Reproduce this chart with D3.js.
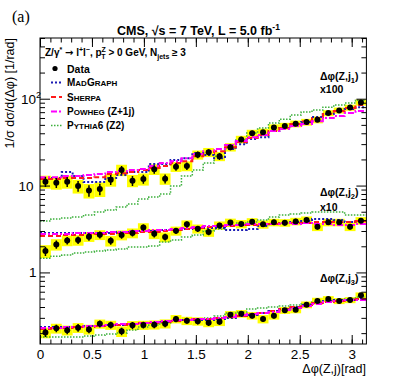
<!DOCTYPE html>
<html>
<head>
<meta charset="utf-8">
<script src="https://cdn.jsdelivr.net/npm/d3@7"></script>
<style>
  body { margin: 0; background: #fff; }
  svg { display: block; }
  text { font-family: "Liberation Sans", Arial, sans-serif; fill: #000; }
</style>
</head>
<body>
<svg id="chart" width="407" height="383"></svg>
<script>
// Binning: 30 bins in delta phi from 0 to pi
var binCount = 30;
var xTicks = [0, 0.5, 1, 1.5, 2, 2.5, 3];
var xTickLabels = ["0", "0.5", "1", "1.5", "2", "2.5", "3"];
var yTicks = [1, 10, 100];

// Scale factors used for display (j1 x100, j2 x10, j3 x1)
var factors = [100, 10, 1];

// Measured data, normalised (unscaled)
var dataJ1 = [0.111, 0.108, 0.111, 0.0987, 0.0876, 0.0912, 0.117, 0.151, 0.114, 0.119, 0.154, 0.120, 0.165, 0.168, 0.226,
              0.242, 0.217, 0.277, 0.340, 0.399, 0.411, 0.465, 0.484, 0.514, 0.538, 0.572, 0.683, 0.733, 0.790, 0.907];
var dataJ2 = [0.176, 0.210, 0.233, 0.236, 0.258, 0.271, 0.231, 0.269, 0.284, 0.329, 0.278, 0.256, 0.301, 0.358, 0.318,
              0.292, 0.348, 0.375, 0.361, 0.383, 0.358, 0.377, 0.373, 0.387, 0.401, 0.336, 0.377, 0.377, 0.336, 0.394];
var dataJ3 = [0.203, 0.227, 0.216, 0.231, 0.221, 0.256, 0.248, 0.210, 0.246, 0.248, 0.250, 0.257, 0.291, 0.278, 0.274,
              0.263, 0.271, 0.326, 0.335, 0.318, 0.291, 0.318, 0.366, 0.372, 0.425, 0.469, 0.494, 0.469, 0.481, 0.545];

// Relative statistical errors
var statJ1 = [0.13, 0.13, 0.13, 0.14, 0.15, 0.15, 0.13, 0.11, 0.13, 0.12, 0.11, 0.12, 0.10, 0.10, 0.09,
              0.08, 0.09, 0.08, 0.07, 0.07, 0.06, 0.06, 0.06, 0.06, 0.06, 0.05, 0.05, 0.05, 0.05, 0.045];
var statJ2 = [0.12, 0.11, 0.10, 0.10, 0.10, 0.09, 0.10, 0.09, 0.09, 0.08, 0.09, 0.09, 0.08, 0.08, 0.08,
              0.08, 0.07, 0.07, 0.07, 0.07, 0.07, 0.07, 0.07, 0.07, 0.06, 0.07, 0.07, 0.07, 0.07, 0.06];
var statJ3 = [0.11, 0.10, 0.10, 0.10, 0.10, 0.09, 0.09, 0.10, 0.09, 0.09, 0.09, 0.09, 0.08, 0.08, 0.08,
              0.08, 0.08, 0.07, 0.07, 0.07, 0.07, 0.07, 0.06, 0.06, 0.06, 0.05, 0.05, 0.05, 0.05, 0.05];

// Relative systematic errors (yellow boxes)
var sysJ1 = [0.17, 0.17, 0.17, 0.18, 0.19, 0.19, 0.17, 0.15, 0.16, 0.16, 0.14, 0.15, 0.13, 0.13, 0.12,
             0.12, 0.12, 0.11, 0.10, 0.10, 0.10, 0.09, 0.09, 0.09, 0.09, 0.09, 0.08, 0.08, 0.08, 0.08];
var sysJ2 = [0.17, 0.15, 0.14, 0.14, 0.13, 0.13, 0.14, 0.13, 0.13, 0.12, 0.13, 0.13, 0.12, 0.11, 0.12,
             0.12, 0.11, 0.11, 0.11, 0.10, 0.11, 0.10, 0.10, 0.10, 0.10, 0.11, 0.10, 0.10, 0.11, 0.10];
var sysJ3 = [0.14, 0.13, 0.13, 0.13, 0.13, 0.12, 0.12, 0.14, 0.12, 0.12, 0.12, 0.12, 0.11, 0.11, 0.11,
             0.11, 0.11, 0.10, 0.10, 0.10, 0.11, 0.10, 0.09, 0.09, 0.09, 0.09, 0.08, 0.08, 0.08, 0.08];

// Predictions
var madgraphJ1 = [0.119, 0.122, 0.143, 0.129, 0.110, 0.110, 0.122, 0.132, 0.143, 0.143, 0.177, 0.177, 0.197, 0.207, 0.237,
                  0.225, 0.207, 0.263, 0.300, 0.343, 0.361, 0.424, 0.459, 0.497, 0.538, 0.614, 0.665, 0.720, 0.760, 0.800];
var sherpaJ1 = [0.119, 0.119, 0.122, 0.122, 0.122, 0.125, 0.136, 0.139, 0.143, 0.151, 0.159, 0.168, 0.182, 0.191, 0.218,
                0.237, 0.249, 0.277, 0.317, 0.352, 0.381, 0.424, 0.459, 0.511, 0.552, 0.598, 0.665, 0.720, 0.780, 0.844];
var powhegJ1 = [0.125, 0.125, 0.129, 0.129, 0.132, 0.136, 0.143, 0.147, 0.151, 0.155, 0.168, 0.182, 0.191, 0.207, 0.231,
                0.249, 0.263, 0.293, 0.325, 0.361, 0.381, 0.424, 0.447, 0.484, 0.511, 0.552, 0.598, 0.631, 0.683, 0.720];
var pythiaJ1 = [0.0390, 0.0412, 0.0423, 0.0434, 0.0458, 0.0496, 0.0523, 0.0566, 0.0612, 0.0699, 0.0737, 0.0798, 0.0987, 0.129, 0.151,
                0.182, 0.218, 0.270, 0.334, 0.402, 0.459, 0.524, 0.582, 0.648, 0.701, 0.739, 0.800, 0.844, 0.890, 0.963];

var madgraphJ2 = [0.284, 0.284, 0.284, 0.284, 0.284, 0.284, 0.284, 0.292, 0.292, 0.300, 0.300, 0.308, 0.308, 0.316, 0.324,
                  0.324, 0.324, 0.308, 0.308, 0.316, 0.342, 0.360, 0.370, 0.380, 0.390, 0.412, 0.412, 0.401, 0.380, 0.390];
var sherpaJ2 = [0.262, 0.262, 0.269, 0.269, 0.269, 0.277, 0.277, 0.284, 0.284, 0.292, 0.292, 0.300, 0.308, 0.316, 0.324,
                0.333, 0.342, 0.342, 0.351, 0.351, 0.360, 0.360, 0.370, 0.370, 0.370, 0.380, 0.380, 0.380, 0.380, 0.390];
var powhegJ2 = [0.277, 0.277, 0.277, 0.284, 0.284, 0.284, 0.292, 0.292, 0.300, 0.300, 0.308, 0.308, 0.316, 0.324, 0.333,
                0.342, 0.342, 0.351, 0.351, 0.360, 0.360, 0.360, 0.370, 0.360, 0.370, 0.360, 0.360, 0.351, 0.351, 0.360];
var pythiaJ2 = [0.146, 0.154, 0.159, 0.167, 0.172, 0.176, 0.181, 0.186, 0.196, 0.196, 0.201, 0.224, 0.236, 0.255, 0.269,
                0.300, 0.316, 0.351, 0.370, 0.380, 0.401, 0.434, 0.458, 0.470, 0.483, 0.496, 0.496, 0.496, 0.458, 0.458];

var madgraphJ3 = [0.235, 0.235, 0.235, 0.235, 0.242, 0.242, 0.248, 0.248, 0.255, 0.262, 0.262, 0.269, 0.276, 0.283, 0.283,
                  0.283, 0.291, 0.299, 0.315, 0.323, 0.341, 0.359, 0.379, 0.400, 0.422, 0.444, 0.469, 0.481, 0.481, 0.494];
var sherpaJ3 = [0.223, 0.229, 0.229, 0.235, 0.235, 0.242, 0.242, 0.248, 0.255, 0.262, 0.262, 0.269, 0.276, 0.283, 0.291,
                0.291, 0.299, 0.307, 0.315, 0.332, 0.341, 0.359, 0.379, 0.400, 0.422, 0.444, 0.456, 0.469, 0.481, 0.494];
var powhegJ3 = [0.229, 0.229, 0.235, 0.235, 0.242, 0.242, 0.248, 0.255, 0.255, 0.262, 0.269, 0.276, 0.283, 0.283, 0.291,
                0.291, 0.299, 0.307, 0.323, 0.332, 0.341, 0.350, 0.369, 0.389, 0.411, 0.433, 0.456, 0.469, 0.481, 0.481];
var pythiaJ3 = [0.180, 0.180, 0.180, 0.180, 0.185, 0.190, 0.195, 0.201, 0.217, 0.235, 0.248, 0.262, 0.276, 0.283, 0.291,
                0.299, 0.315, 0.341, 0.350, 0.379, 0.389, 0.400, 0.411, 0.422, 0.433, 0.456, 0.469, 0.481, 0.494, 0.521];

// Model styles
var models = [
  {name: "madgraph", color: "#1c1cb4", dash: "2,2", width: 2},
  {name: "sherpa", color: "#ff1a1a", dash: "5,3", width: 2},
  {name: "powheg", color: "#ff00ff", dash: "6,2,2,2", width: 2},
  {name: "pythia", color: "#3cb03c", dash: "1.5,1.5", width: 1.5}
];

var series = [
  {data: dataJ1, stat: statJ1, sys: sysJ1, factor: factors[0], mc: [madgraphJ1, sherpaJ1, powhegJ1, pythiaJ1]},
  {data: dataJ2, stat: statJ2, sys: sysJ2, factor: factors[1], mc: [madgraphJ2, sherpaJ2, powhegJ2, pythiaJ2]},
  {data: dataJ3, stat: statJ3, sys: sysJ3, factor: factors[2], mc: [madgraphJ3, sherpaJ3, powhegJ3, pythiaJ3]}
];

var edges = d3.range(binCount + 1).map(function(i){ return i * Math.PI / binCount; });

var frame = {left: 40, right: 366.4, top: 38, bottom: 344};
var x = d3.scaleLinear().domain([0, Math.PI]).range([frame.left, frame.right]);
var y = d3.scaleLog().domain([0.15, 500]).range([frame.bottom, frame.top]);

var svg = d3.select("#chart");

svg.append("clipPath").attr("id", "plotClip")
  .append("rect")
  .attr("x", frame.left).attr("y", frame.top)
  .attr("width", frame.right - frame.left).attr("height", frame.bottom - frame.top);

var plot = svg.append("g").attr("clip-path", "url(#plotClip)");

// Yellow systematic boxes
series.forEach(function(s){
  plot.append("g").selectAll("rect")
    .data(s.data)
    .enter()
    .append("rect")
    .attr("x", function(d, i){ return x(edges[i]); })
    .attr("width", function(d, i){ return x(edges[i + 1]) - x(edges[i]); })
    .attr("y", function(d, i){ return y(d * s.factor * (1 + s.sys[i])); })
    .attr("height", function(d, i){ return y(d * s.factor * (1 - s.sys[i])) - y(d * s.factor * (1 + s.sys[i])); })
    .attr("fill", "#ffff00");
});

// Step histograms for the predictions
var stepLine = d3.line()
  .x(function(d){ return x(d.x); })
  .y(function(d){ return y(d.v); })
  .curve(d3.curveStepAfter);

var stepPoints = function(values, factor){
  var pts = values.map(function(v, i){ return {x: edges[i], v: v * factor}; });
  pts.push({x: edges[binCount], v: values[binCount - 1] * factor});
  return pts;
};

// pythia first so the others sit on top
[3, 0, 1, 2].forEach(function(m){
  series.forEach(function(s){
    plot.append("path")
      .attr("d", stepLine(stepPoints(s.mc[m], s.factor)))
      .attr("fill", "none")
      .attr("stroke", models[m].color)
      .attr("stroke-width", models[m].width)
      .attr("stroke-dasharray", models[m].dash);
  });
});

// Data points with stat error bars
series.forEach(function(s){
  var g = plot.append("g");
  g.selectAll("line")
    .data(s.data)
    .enter()
    .append("line")
    .attr("x1", function(d, i){ return x((edges[i] + edges[i + 1]) / 2); })
    .attr("x2", function(d, i){ return x((edges[i] + edges[i + 1]) / 2); })
    .attr("y1", function(d, i){ return y(d * s.factor * (1 - s.stat[i])); })
    .attr("y2", function(d, i){ return y(d * s.factor * (1 + s.stat[i])); })
    .attr("stroke", "#000")
    .attr("stroke-width", 1.5);
  g.selectAll("circle")
    .data(s.data)
    .enter()
    .append("circle")
    .attr("cx", function(d, i){ return x((edges[i] + edges[i + 1]) / 2); })
    .attr("cy", function(d){ return y(d * s.factor); })
    .attr("r", 3)
    .attr("fill", "#000");
});

// Axes, ROOT style: ticks inside the frame on all four sides
var xMinor = d3.range(0, 32).map(function(i){ return i / 10; });
var yMinor = [];
[0.1, 1, 10, 100].forEach(function(dec){
  for (var k = 2; k <= 9; k++) {
    var v = k * dec;
    if (v >= 0.15 && v <= 500) yMinor.push(v);
  }
});

var addAxis = function(axis, transform){
  var g = svg.append("g").attr("transform", transform).call(axis);
  g.select(".domain").remove();
  g.selectAll("line").attr("stroke", "#000");
  return g;
};

var bottomAxis = addAxis(d3.axisBottom(x).tickValues(xTicks).tickSize(-9).tickPadding(5.5)
  .tickFormat(function(d, i){ return xTickLabels[i]; }), "translate(0," + frame.bottom + ")");
bottomAxis.selectAll("text").attr("font-size", 13.5).style("font-family", "Liberation Sans, Arial, sans-serif");
addAxis(d3.axisBottom(x).tickValues(xMinor).tickSize(-4.5).tickFormat(""), "translate(0," + frame.bottom + ")");
addAxis(d3.axisTop(x).tickValues(xTicks).tickSize(-9).tickFormat(""), "translate(0," + frame.top + ")");
addAxis(d3.axisTop(x).tickValues(xMinor).tickSize(-4.5).tickFormat(""), "translate(0," + frame.top + ")");

addAxis(d3.axisLeft(y).tickValues(yTicks).tickSize(-10).tickFormat(""), "translate(" + frame.left + ",0)");
addAxis(d3.axisLeft(y).tickValues(yMinor).tickSize(-5).tickFormat(""), "translate(" + frame.left + ",0)");
addAxis(d3.axisRight(y).tickValues(yTicks).tickSize(-10).tickFormat(""), "translate(" + frame.right + ",0)");
addAxis(d3.axisRight(y).tickValues(yMinor).tickSize(-5).tickFormat(""), "translate(" + frame.right + ",0)");

// y tick labels (1, 10, 10^2)
svg.append("text").attr("x", 36.5).attr("y", y(1) + 5).attr("text-anchor", "end").attr("font-size", 13.5).text("1");
svg.append("text").attr("x", 33.5).attr("y", y(10) + 5).attr("text-anchor", "end").attr("font-size", 13.5).text("10");
var t100 = svg.append("text").attr("x", 21).attr("y", y(100) + 5).attr("font-size", 13.5);
t100.append("tspan").text("10");
t100.append("tspan").attr("dy", -6).attr("font-size", 9).text("2");

// Frame
svg.append("rect")
  .attr("x", frame.left).attr("y", frame.top)
  .attr("width", frame.right - frame.left).attr("height", frame.bottom - frame.top)
  .attr("fill", "none").attr("stroke", "#000").attr("stroke-width", 1);

// Text helper: segments of [text, dy, fontSize, dx, fontFamily]
var richText = function(xPos, yPos, size, weight, segs, anchor){
  var t = svg.append("text").attr("x", xPos).attr("y", yPos)
    .attr("font-size", size).attr("font-weight", weight || "normal")
    .attr("text-anchor", anchor || "start");
  segs.forEach(function(s){
    var ts = t.append("tspan").text(s[0]);
    if (s[1]) ts.attr("dy", s[1]);
    if (s[2]) ts.attr("font-size", s[2]);
    if (s[3]) ts.attr("dx", s[3]);
    if (s[4]) ts.style("font-family", s[4]);
  });
  return t;
};

richText(12, 22, 16, "normal", [["(a)"]]).style("font-family", "'Liberation Serif', 'DejaVu Serif', serif");

richText(117, 35, 12.5, "bold", [["CMS, √s = 7 TeV, L = 5.0 fb"], ["-1", -5, 8.5]]);

richText(45, 56, 10, "bold", [
  ["Z/γ"], ["*", -4, 7], [" ", 4], ["→", 0, 0, 0, "'DejaVu Sans', sans-serif"], [" l"], ["+", -4, 7], ["l", 4], ["−", -4, 7],
  [", p", 4], ["Z", -4, 7], ["T", 7, 7, -4.5], [" > 0 GeV, N", -3], ["jets", 3, 7], [" ≥ 3", -3]
]);

// Legend
svg.append("circle").attr("cx", 55).attr("cy", 68.5).attr("r", 2.6).attr("fill", "#000");
richText(67, 72.5, 10.5, "bold", [["Data"]]);

var legendRows = [
  {m: 0, yPos: 86, segs: [["M"], ["AD", 0, 8], ["G"], ["RAPH", 0, 8]]},
  {m: 1, yPos: 100.5, segs: [["S"], ["HERPA", 0, 8]]},
  {m: 2, yPos: 115, segs: [["P"], ["OWHEG", 0, 8], [" (Z+1j)"]]},
  {m: 3, yPos: 129, segs: [["P"], ["YTHIA", 0, 8], ["6 (Z2)"]]}
];
legendRows.forEach(function(r){
  svg.append("line")
    .attr("x1", 51).attr("x2", 62)
    .attr("y1", r.yPos - 3.5).attr("y2", r.yPos - 3.5)
    .attr("stroke", models[r.m].color)
    .attr("stroke-width", models[r.m].width)
    .attr("stroke-dasharray", models[r.m].dash);
  richText(67, r.yPos, 10, "bold", r.segs);
});

// Series labels
richText(320, 80, 10.5, "bold", [["Δφ(Z,j"], ["1", 3, 7.5], [")", -3]]);
richText(320, 93, 10.5, "bold", [["x100"]]);
richText(320, 196, 10.5, "bold", [["Δφ(Z,j"], ["2", 3, 7.5], [")", -3]]);
richText(320, 211, 10.5, "bold", [["x10"]]);
richText(320, 282, 10.5, "bold", [["Δφ(Z,j"], ["3", 3, 7.5], [")", -3]]);

// Axis titles
richText(366, 373, 12.5, "normal", [["Δφ(Z,j)[rad]"]], "end");
svg.append("text")
  .attr("transform", "translate(14,38) rotate(-90)")
  .attr("text-anchor", "end")
  .attr("font-size", 12.5)
  .text("1/σ dσ/d(Δφ) [1/rad]");
</script>
</body>
</html>
